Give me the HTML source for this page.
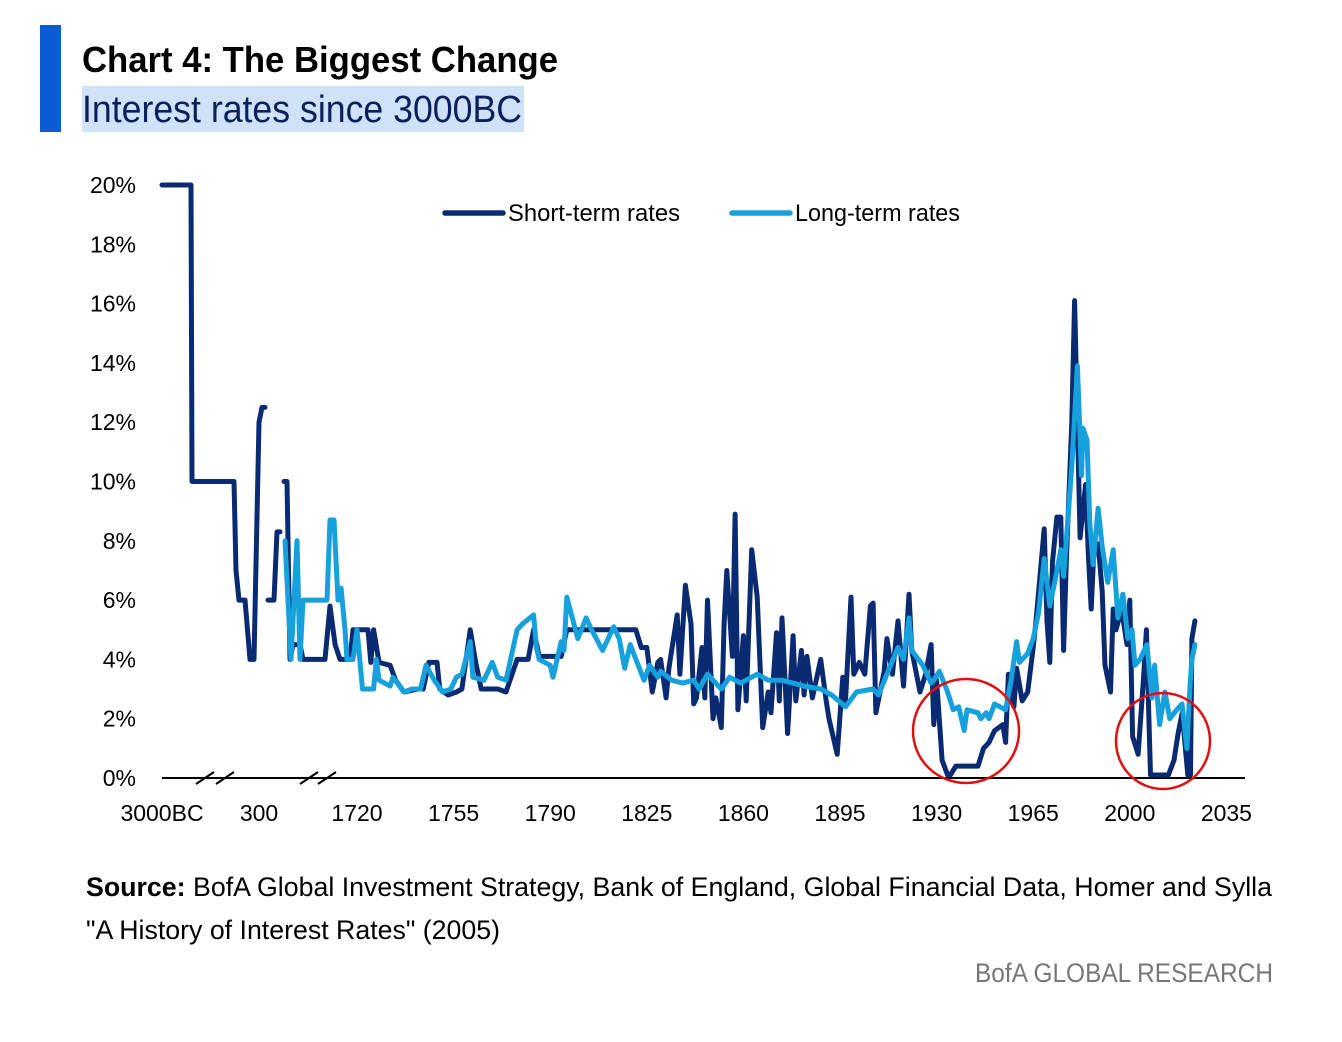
<!DOCTYPE html>
<html><head><meta charset="utf-8"><style>
html,body{margin:0;padding:0;background:#fff;}
svg{display:block;font-family:"Liberation Sans",sans-serif;}
</style></head><body>
<svg id="chart" width="1342" height="1042" viewBox="0 0 1342 1042" xmlns="http://www.w3.org/2000/svg">
<rect x="40" y="25" width="21" height="107" fill="#0b5bd3"/>
<text x="82" y="72" font-size="36" font-weight="bold" fill="#000" textLength="476" lengthAdjust="spacingAndGlyphs">Chart 4: The Biggest Change</text>
<rect x="82" y="86" width="442" height="46" fill="#cfe2f7"/>
<text x="82" y="122" font-size="38" fill="#0a1f5c" textLength="440" lengthAdjust="spacingAndGlyphs">Interest rates since 3000BC</text>
<g id="yaxis"></g>
<g id="xaxis"></g>
<g id="series"></g>
<g>
 <line x1="445" y1="213" x2="503" y2="213" stroke="#0a2a72" stroke-width="5.5" stroke-linecap="round"/>
 <text x="508" y="221" font-size="24" fill="#000" textLength="172" lengthAdjust="spacingAndGlyphs">Short-term rates</text>
 <line x1="732" y1="213" x2="790" y2="213" stroke="#16a0dc" stroke-width="5.5" stroke-linecap="round"/>
 <text x="795" y="221" font-size="24" fill="#000" textLength="165" lengthAdjust="spacingAndGlyphs">Long-term rates</text>
</g>
<ellipse cx="966" cy="731" rx="53" ry="52" fill="none" stroke="#e01010" stroke-width="2.5"/>
<ellipse cx="1163" cy="741" rx="47" ry="48" fill="none" stroke="#e01010" stroke-width="2.5"/>
<text x="86" y="896" font-size="27" fill="#000" textLength="1186" lengthAdjust="spacingAndGlyphs"><tspan font-weight="bold">Source:</tspan> BofA Global Investment Strategy, Bank of England, Global Financial Data, Homer and Sylla</text>
<text x="86" y="939" font-size="27" fill="#000" textLength="414" lengthAdjust="spacingAndGlyphs">"A History of Interest Rates" (2005)</text>
<text x="1273" y="982" font-size="27" fill="#777" text-anchor="end" textLength="298" lengthAdjust="spacingAndGlyphs">BofA GLOBAL RESEARCH</text>
</svg>
<script>
const yTicks = [0,2,4,6,8,10,12,14,16,18,20];
const xTickYears = [-3000,300,1720,1755,1790,1825,1860,1895,1930,1965,2000,2035];
const xTickLabels = ["3000BC","300","1720","1755","1790","1825","1860","1895","1930","1965","2000","2035"];
const shortYears = [-3000,-2013,-1979,-551,-483,-380,-176,-6,130,300,343,387,null,430,517,561,604,null,662,706,749,793,894,938,1257,1329,1402,1474,1546,1619,1662,1720,1724,1725,1726,1728,1732,1734,1737,1742,1744,1746,1749,1750,1753,1756,1758,1761,1763,1765,1771,1774,1778,1782,1784,1786,1794,1796,1821,1823,1825,1827,1829,1830,1832,1833,1836,1837,1839,1841,1842,1843,1845,1846,1847,1849,1850,1852,1853,1854,1856,1857,1858,1860,1861,1863,1865,1867,1869,1870,1872,1873,1874,1876,1878,1879,1881,1882,1883,1885,1888,1890,1891,1894,1896,1897,1899,1900,1902,1904,1906,1907,1908,1911,1912,1914,1916,1918,1920,1921,1924,1926,1928,1929,1930,1932,1934,1935,1937,1945,1947,1949,1951,1954,1955,1956,1958,1959,1961,1963,1965,1966,1969,1970,1971,1972,1973.6,1975,1976,1977,1979,1980,1981,1982,1984,1985,1986,1987,1988.5,1990,1991,1993,1994,1995,1997,1999,2000,2001,2003,2005,2006,2007.5,2010,2014,2016,2017.5,2019,2021,2022,2022.5,2023.6];
const shortVals = [20,20,10,10,7,6,6,4,4,12,12.5,12.5,null,6,6,8.3,8.3,null,10,10,4,4.5,4.5,4,4,5.8,4.5,4,4,4,5,5,5,3.9,5,3.9,3.8,3.3,2.9,3.0,3.0,3.9,3.9,3.0,2.8,2.9,3.0,5.0,3.9,3.0,3.0,2.9,4.0,4.0,5.0,4.1,4.1,5.0,5.0,4.4,4.4,2.9,3.9,4.0,2.7,3.7,5.5,3.5,6.5,5.2,2.5,2.7,4.4,2.7,6.0,2.0,2.7,1.7,5.2,7.0,4.1,8.9,2.3,4.8,2.6,7.7,6.1,1.7,2.9,2.2,4.9,2.6,5.4,1.5,4.8,2.6,4.3,2.8,4.1,2.7,4.0,2.6,2.0,0.8,3.4,2.6,6.1,3.5,3.9,3.5,5.8,5.9,2.2,3.6,4.7,3.5,5.3,3.1,6.2,4.3,2.9,3.5,4.5,1.8,3.3,0.6,0.1,0.1,0.4,0.4,1.0,1.2,1.6,1.8,1.2,3.5,2.4,3.7,2.6,2.9,4.4,5.3,8.4,5.3,3.9,7.3,8.8,8.8,4.3,7.3,12.0,16.1,12.0,8.1,9.9,7.5,5.7,7.7,7.9,6.3,3.8,2.9,5.7,5.0,5.7,4.5,6.0,1.4,0.8,3.4,5.0,0.1,0.1,0.1,0.6,1.5,2.2,0.1,0.1,4.7,5.3];
const longYears = [677,764,851,894,938,1286,1329,1387,1445,1489,1546,1575,1662,1720,1722,1726,1727,1728,1732,1733,1737,1740,1743,1745,1748,1751,1754,1756,1758,1761,1762,1766,1769,1771,1774,1778,1780,1784,1785,1786,1790,1791,1794,1795,1796,1800,1803,1805,1809,1813,1815,1817,1819,1824,1826,1829,1830,1834,1838,1842,1844,1847,1852,1855,1859,1865,1869,1874,1882,1888,1892,1897,1901,1907,1909,1912,1916,1918,1920,1921,1925,1928,1929,1931,1934,1936,1938,1940,1941,1945,1946,1948,1949,1951,1955,1957,1959,1960,1963,1965,1967,1969,1971,1973,1975,1976,1979,1981,1982.5,1983,1984.5,1985.5,1986.7,1988.5,1990,1992,1994,1995.7,1997.5,1999.3,2000.8,2001.9,2003.7,2006.2,2008,2009,2010.8,2012.7,2014.5,2017,2018.9,2020.7,2021.8,2022.5,2023.6];
const longVals = [8,4,8,4,6,6,8.7,8.7,6,6.4,5,4,4,5,3,3,4,3.3,3.1,3.4,2.9,3.0,3.0,3.8,3.3,2.9,3.0,3.4,3.5,4.6,3.4,3.3,3.9,3.4,3.3,5.0,5.2,5.5,4.4,4.0,3.8,3.4,4.6,4.3,6.1,4.7,5.4,5.0,4.3,5.1,4.7,3.7,4.5,3.3,3.8,3.4,3.6,3.3,3.2,3.3,3.0,3.5,3.0,3.4,3.2,3.5,3.3,3.3,3.1,3.0,2.8,2.4,2.9,3.0,2.8,3.5,4.4,4.0,5.4,4.3,3.8,3.2,3.3,3.6,2.9,2.3,2.4,1.6,2.3,2.2,2.0,2.2,2.0,2.5,2.3,3.3,4.6,3.9,4.2,4.7,5.6,7.4,5.8,6.7,7.7,6.8,10.5,13.9,10.2,11.8,11.4,8.6,7.2,9.1,7.8,6.6,7.7,5.4,6.2,4.7,5.0,3.8,4.0,4.5,2.7,3.8,1.8,2.9,2.0,2.3,2.5,1.0,3.1,4.0,4.5];

const NS = "http://www.w3.org/2000/svg";
function yScale(v){ return 778 - v*29.65; }
function xScale(yr){
  if (yr <= 300) return 162 + (yr+3000)/3300*97;
  if (yr <= 1720) return 259 + (yr-300)/1420*98;
  return 357 + (yr-1720)*(966/350);
}
function mk(tag, attrs, parent){
  const e = document.createElementNS(NS, tag);
  for (const k in attrs) e.setAttribute(k, attrs[k]);
  parent.appendChild(e); return e;
}
const ya = document.getElementById('yaxis');
yTicks.forEach(t => {
  const tx = mk('text', {x:136, y:yScale(t)+8, 'font-size':23, 'text-anchor':'end', fill:'#000'}, ya);
  
  
  tx.textContent = t + '%';
});
const xa = document.getElementById('xaxis');
const axisLine = mk('line', {x1:162, y1:778, x2:1245, y2:778, stroke:'#000', 'stroke-width':2}, xa);


[[196,214],[216,234],[300,318],[318,336]].forEach(p => {
  const b = mk('line', {x1:p[0], y1:784, x2:p[1], y2:772, stroke:'#000', 'stroke-width':2}, xa);
  
  
});
xTickYears.forEach((yr,i) => {
  const tx = mk('text', {x:xScale(yr), y:821, 'font-size':23, 'text-anchor':'middle', fill:'#000'}, xa);
  
  
  tx.textContent = xTickLabels[i];
});
function pathFor(years, vals){
  let d = '', pen = false;
  years.forEach((yr,i) => {
    const v = vals[i];
    if (yr === null || v === null) { pen = false; return; }
    d += (pen ? 'L' : 'M') + xScale(yr).toFixed(1) + ',' + yScale(v).toFixed(1);
    pen = true;
  });
  return d;
}
const sg = document.getElementById('series');
const lp = mk('path', {d:pathFor(longYears, longVals), fill:'none', stroke:'#16a0dc', 'stroke-width':5, 'stroke-linejoin':'round', 'stroke-linecap':'round'}, sg);


const sp = mk('path', {d:pathFor(shortYears, shortVals), fill:'none', stroke:'#0a2a72', 'stroke-width':5, 'stroke-linejoin':'round', 'stroke-linecap':'round'}, sg);


sg.appendChild(lp);
</script>
</body></html>
